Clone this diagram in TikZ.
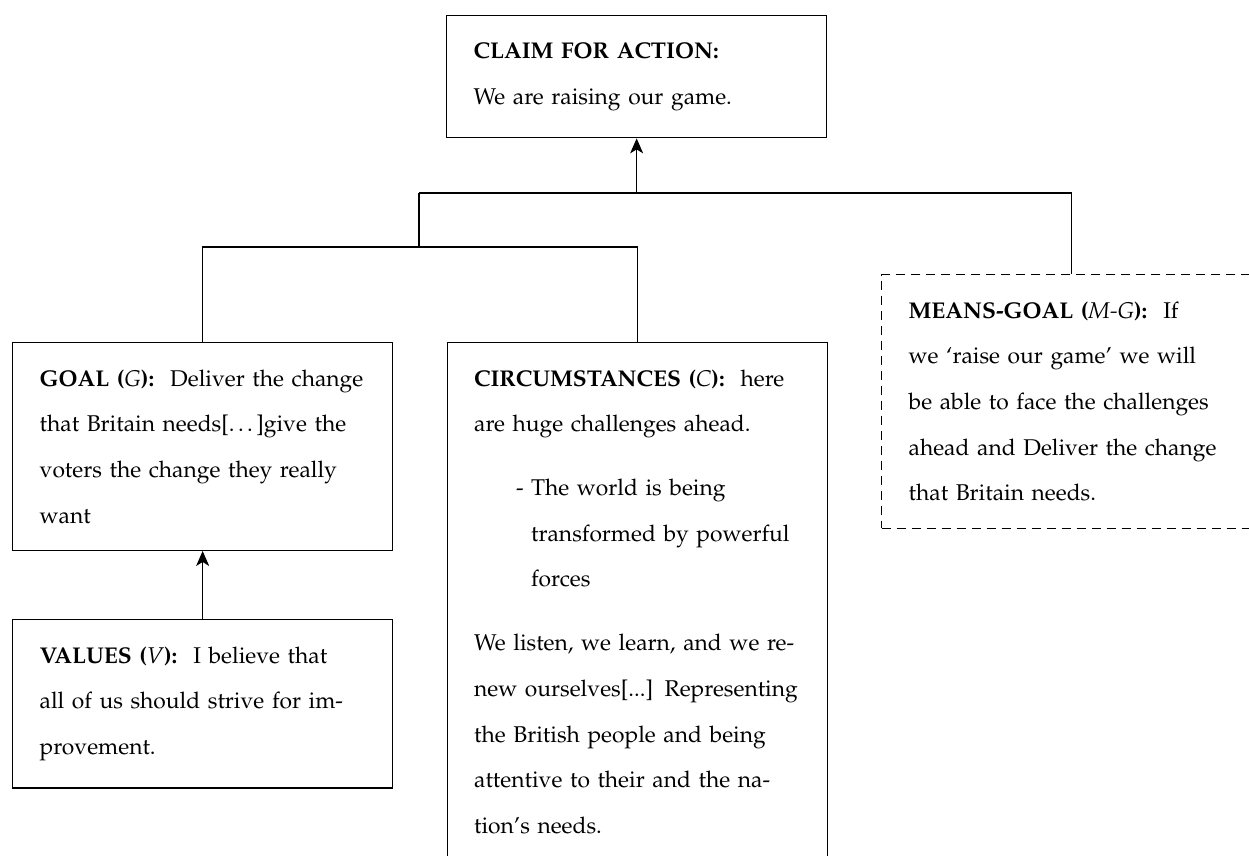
\documentclass[tikz,border=0pt]{standalone}
\usepackage[T1]{fontenc}
\usepackage{mathpazo}
\usetikzlibrary{arrows.meta}
\newcommand\hd[1]{\textbf{#1}\hspace{0.7em}}
\newcommand\vr[1]{\textmd{\textit{#1}}}
\begin{document}
\begin{tikzpicture}[x=0.5pt,y=-0.5pt,
  box/.style={draw, line width=0.65pt, anchor=north west, inner xsep=13.5pt,
    inner ysep=13.5pt, text width=163pt, align=left,
    font=\fontsize{11.4}{22.85}\selectfont},
  dbox/.style={box, dash pattern=on 4.5pt off 3pt},
  link/.style={line width=0.65pt},
  arr/.style={link, -{Stealth[length=7.5pt,width=6.5pt,inset=2pt]}}]
\useasboundingbox (0,0) rectangle (1249,856);
\fill[white] (0,0) rectangle (1249,856);
\clip (0,0) rectangle (1249,856);

\node[box] (claim) at (446,15) {\mbox{\textbf{CLAIM FOR ACTION:}}\\
\mbox{We are raising our game.}};

\node[box] (goal) at (12,342) {\mbox{\hd{GOAL (\vr{G}):}Deliver the change}\\
\mbox{that Britain needs[\ldots]give the}\\
\mbox{voters the change they really}\\
\mbox{want}};

\node[box] (values) at (12,619) {\mbox{\hd{VALUES (\vr{V}):}I believe that}\\
\mbox{all of us should strive for im-}\\
\mbox{provement.}};

\node[box] (circ) at (446.5,342) {\mbox{\hd{CIRCUMSTANCES (\vr{C}):}here}\\
\mbox{are huge challenges ahead.}\\[9pt]
\mbox{\makebox[28.5pt][l]{\hspace*{21pt}-}The world is being}\\
\mbox{\hspace*{28.5pt}transformed by powerful}\\
\mbox{\hspace*{28.5pt}forces}\\[9pt]
\mbox{We listen, we learn, and we re-}\\
\mbox{new ourselves[...] Representing}\\
\mbox{the British people and being}\\
\mbox{attentive to their and the na-}\\
\mbox{tion's needs.}};

\node[dbox] (means) at (881,274) {\mbox{\hd{MEANS-GOAL (\vr{M-G}):}If}\\
\mbox{we `raise our game' we will}\\
\mbox{be able to face the challenges}\\
\mbox{ahead and Deliver the change}\\
\mbox{that Britain needs.}};

\coordinate (ja) at (claim.south |- 0,193);
\coordinate (jb) at (419,193);
\coordinate (jc) at (419,247);

\draw[arr] (ja) -- (claim.south);
\draw[link] (jb) -- (jb -| means.north) -- (means.north);
\draw[link] (jb) -- (jc);
\draw[link] (goal.north) -- (goal.north |- jc) -- (circ.north |- jc) -- (circ.north);
\draw[arr] (values.north) -- (goal.south);
\end{tikzpicture}
\end{document}
